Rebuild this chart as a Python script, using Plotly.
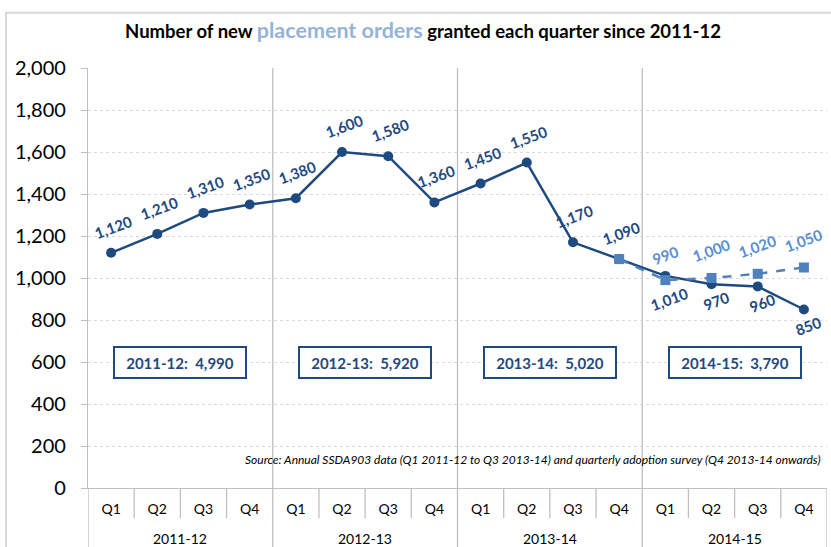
import plotly.graph_objects as go

# ---- data ----
years = ["2011-12", "2012-13", "2013-14", "2014-15"]
quarters = ["Q1", "Q2", "Q3", "Q4"]
orders = [1120, 1210, 1310, 1350, 1380, 1600, 1580, 1360,
          1450, 1550, 1170, 1090, 1010, 970, 960, 850]
survey = [None] * 11 + [1090, 990, 1000, 1020, 1050]
year_totals = [4990, 5920, 5020, 3790]
below_idx = [12, 13, 14, 15]          # dark labels drawn below the point
y_ticks = list(range(0, 2001, 200))

DARK = "#1F4A7F"
LIGHT = "#4F81BD"
LIGHT_TXT = "#5A8ED0"
GRID = "#BFBFBF"
FONT = "Lato, Carlito, Calibri, sans-serif"

nq = len(quarters)
n = len(orders)
x_idx = list(range(n))
q_labels = [q for _ in years for q in quarters]

fig = go.Figure()
fig.add_trace(go.Scatter(
    x=x_idx, y=orders, mode="lines+markers",
    line=dict(color=DARK, width=2.5),
    marker=dict(symbol="circle", size=10, color=DARK),
    showlegend=False, hoverinfo="y"))
fig.add_trace(go.Scatter(
    x=x_idx, y=survey, mode="lines+markers",
    line=dict(color=LIGHT, width=2.5, dash="dash"),
    marker=dict(symbol="square", size=10, color=LIGHT),
    showlegend=False, hoverinfo="y"))

ann = []
# dark series labels
for i, v in enumerate(orders):
    txt = f"{v:,}"
    if i in below_idx:
        ys = -(6 + 3.4 * len(txt))
        xs = 4
    else:
        ys = 26
        xs = 2
    ann.append(dict(x=i, y=v, xref="x", yref="y", text=f"<b>{txt}</b>",
                    showarrow=False, textangle=-20, yshift=ys, xshift=xs,
                    font=dict(family=FONT, size=15, color=DARK)))
# survey labels (skip the shared point)
for i, v in enumerate(survey):
    if v is None or i == 11:
        continue
    txt = f"{v:,}"
    ann.append(dict(x=i, y=v, xref="x", yref="y", text=f"<b>{txt}</b>",
                    showarrow=False, textangle=-20, yshift=22 + 1.2 * len(txt),
                    font=dict(family=FONT, size=15, color=LIGHT_TXT)))
# year total boxes
for k, (yr, tot) in enumerate(zip(years, year_totals)):
    ann.append(dict(x=k * nq + (nq - 1) / 2, y=600, xref="x", yref="y",
                    text=f"<b>{yr}:  {tot:,}</b>", showarrow=False,
                    width=128, height=27, bgcolor="white",
                    bordercolor=DARK, borderwidth=2, borderpad=1,
                    font=dict(family=FONT, size=15, color=DARK)))
    # year category labels under the axis
    ann.append(dict(x=k * nq + (nq - 1) / 2, y=-50 / 419, xref="x", yref="paper",
                    text=yr, showarrow=False, yanchor="middle",
                    font=dict(family=FONT, size=14, color="#000000")))
# source note
ann.append(dict(x=0.994, y=0.067, xref="paper", yref="paper",
                xanchor="right", yanchor="middle", showarrow=False,
                text="<i>Source: Annual SSDA903 data (Q1 2011-12 to Q3 2013-14) and quarterly adoption survey (Q4 2013-14 onwards)</i>",
                font=dict(family=FONT, size=12, color="#000000")))

shapes = []
# boundaries between categories
for b in range(n + 1):
    xb = b - 0.5
    if b % nq == 0:
        top = 1 if 0 < b < n else 0
        shapes.append(dict(type="line", xref="x", yref="paper",
                           x0=xb, x1=xb, y0=top, y1=-62 / 419,
                           line=dict(color=GRID, width=1.3), layer="below"))
    else:
        shapes.append(dict(type="line", xref="x", yref="paper",
                           x0=xb, x1=xb, y0=0, y1=-30 / 419,
                           line=dict(color=GRID, width=1.3), layer="below"))
# outer chart border
shapes.append(dict(type="rect", xref="paper", yref="paper",
                   x0=(6 - 88) / 739, x1=1.02, y0=(487 - 13) / 419, y1=-0.3,
                   line=dict(color="#D9D9D9", width=2)))

fig.update_layout(
    width=831, height=547,
    margin=dict(l=88, r=4, t=68, b=59, autoexpand=False),
    paper_bgcolor="white", plot_bgcolor="white",
    font=dict(family=FONT, color="#000000"),
    title=dict(
        text="<b>Number of new <span style='color:#95B3D7;font-size:21.5px'>placement orders</span> granted each quarter since 2011-12</b>",
        x=423 / 831, xanchor="center", xref="container",
        y=1 - 32 / 547, yanchor="middle", yref="container",
        font=dict(family=FONT, size=18.5, color="#000000")),
    annotations=ann, shapes=shapes,
)
fig.update_yaxes(range=[0, 2000], tickvals=y_ticks, tickformat=",",
                 showgrid=True, gridcolor="#D9D9D9", griddash="dot", gridwidth=1,
                 showline=True, linecolor=GRID, linewidth=1.3,
                 ticks="outside", ticklen=6, tickcolor=GRID,
                 ticklabelstandoff=11, automargin=False,
                 tickfont=dict(family=FONT, size=20, color="#000000"),
                 zeroline=False)
fig.update_xaxes(range=[-0.5, n - 0.5], tickvals=x_idx, ticktext=q_labels,
                 showgrid=False, zeroline=False, automargin=False,
                 showline=True, linecolor=GRID, linewidth=1.3,
                 ticks="", ticklabelstandoff=8,
                 tickfont=dict(family=FONT, size=14, color="#000000"))

fig.write_html("out.html", config={"displayModeBar": False},
               post_script="document.body.style.margin='0';document.body.style.padding='0';")
